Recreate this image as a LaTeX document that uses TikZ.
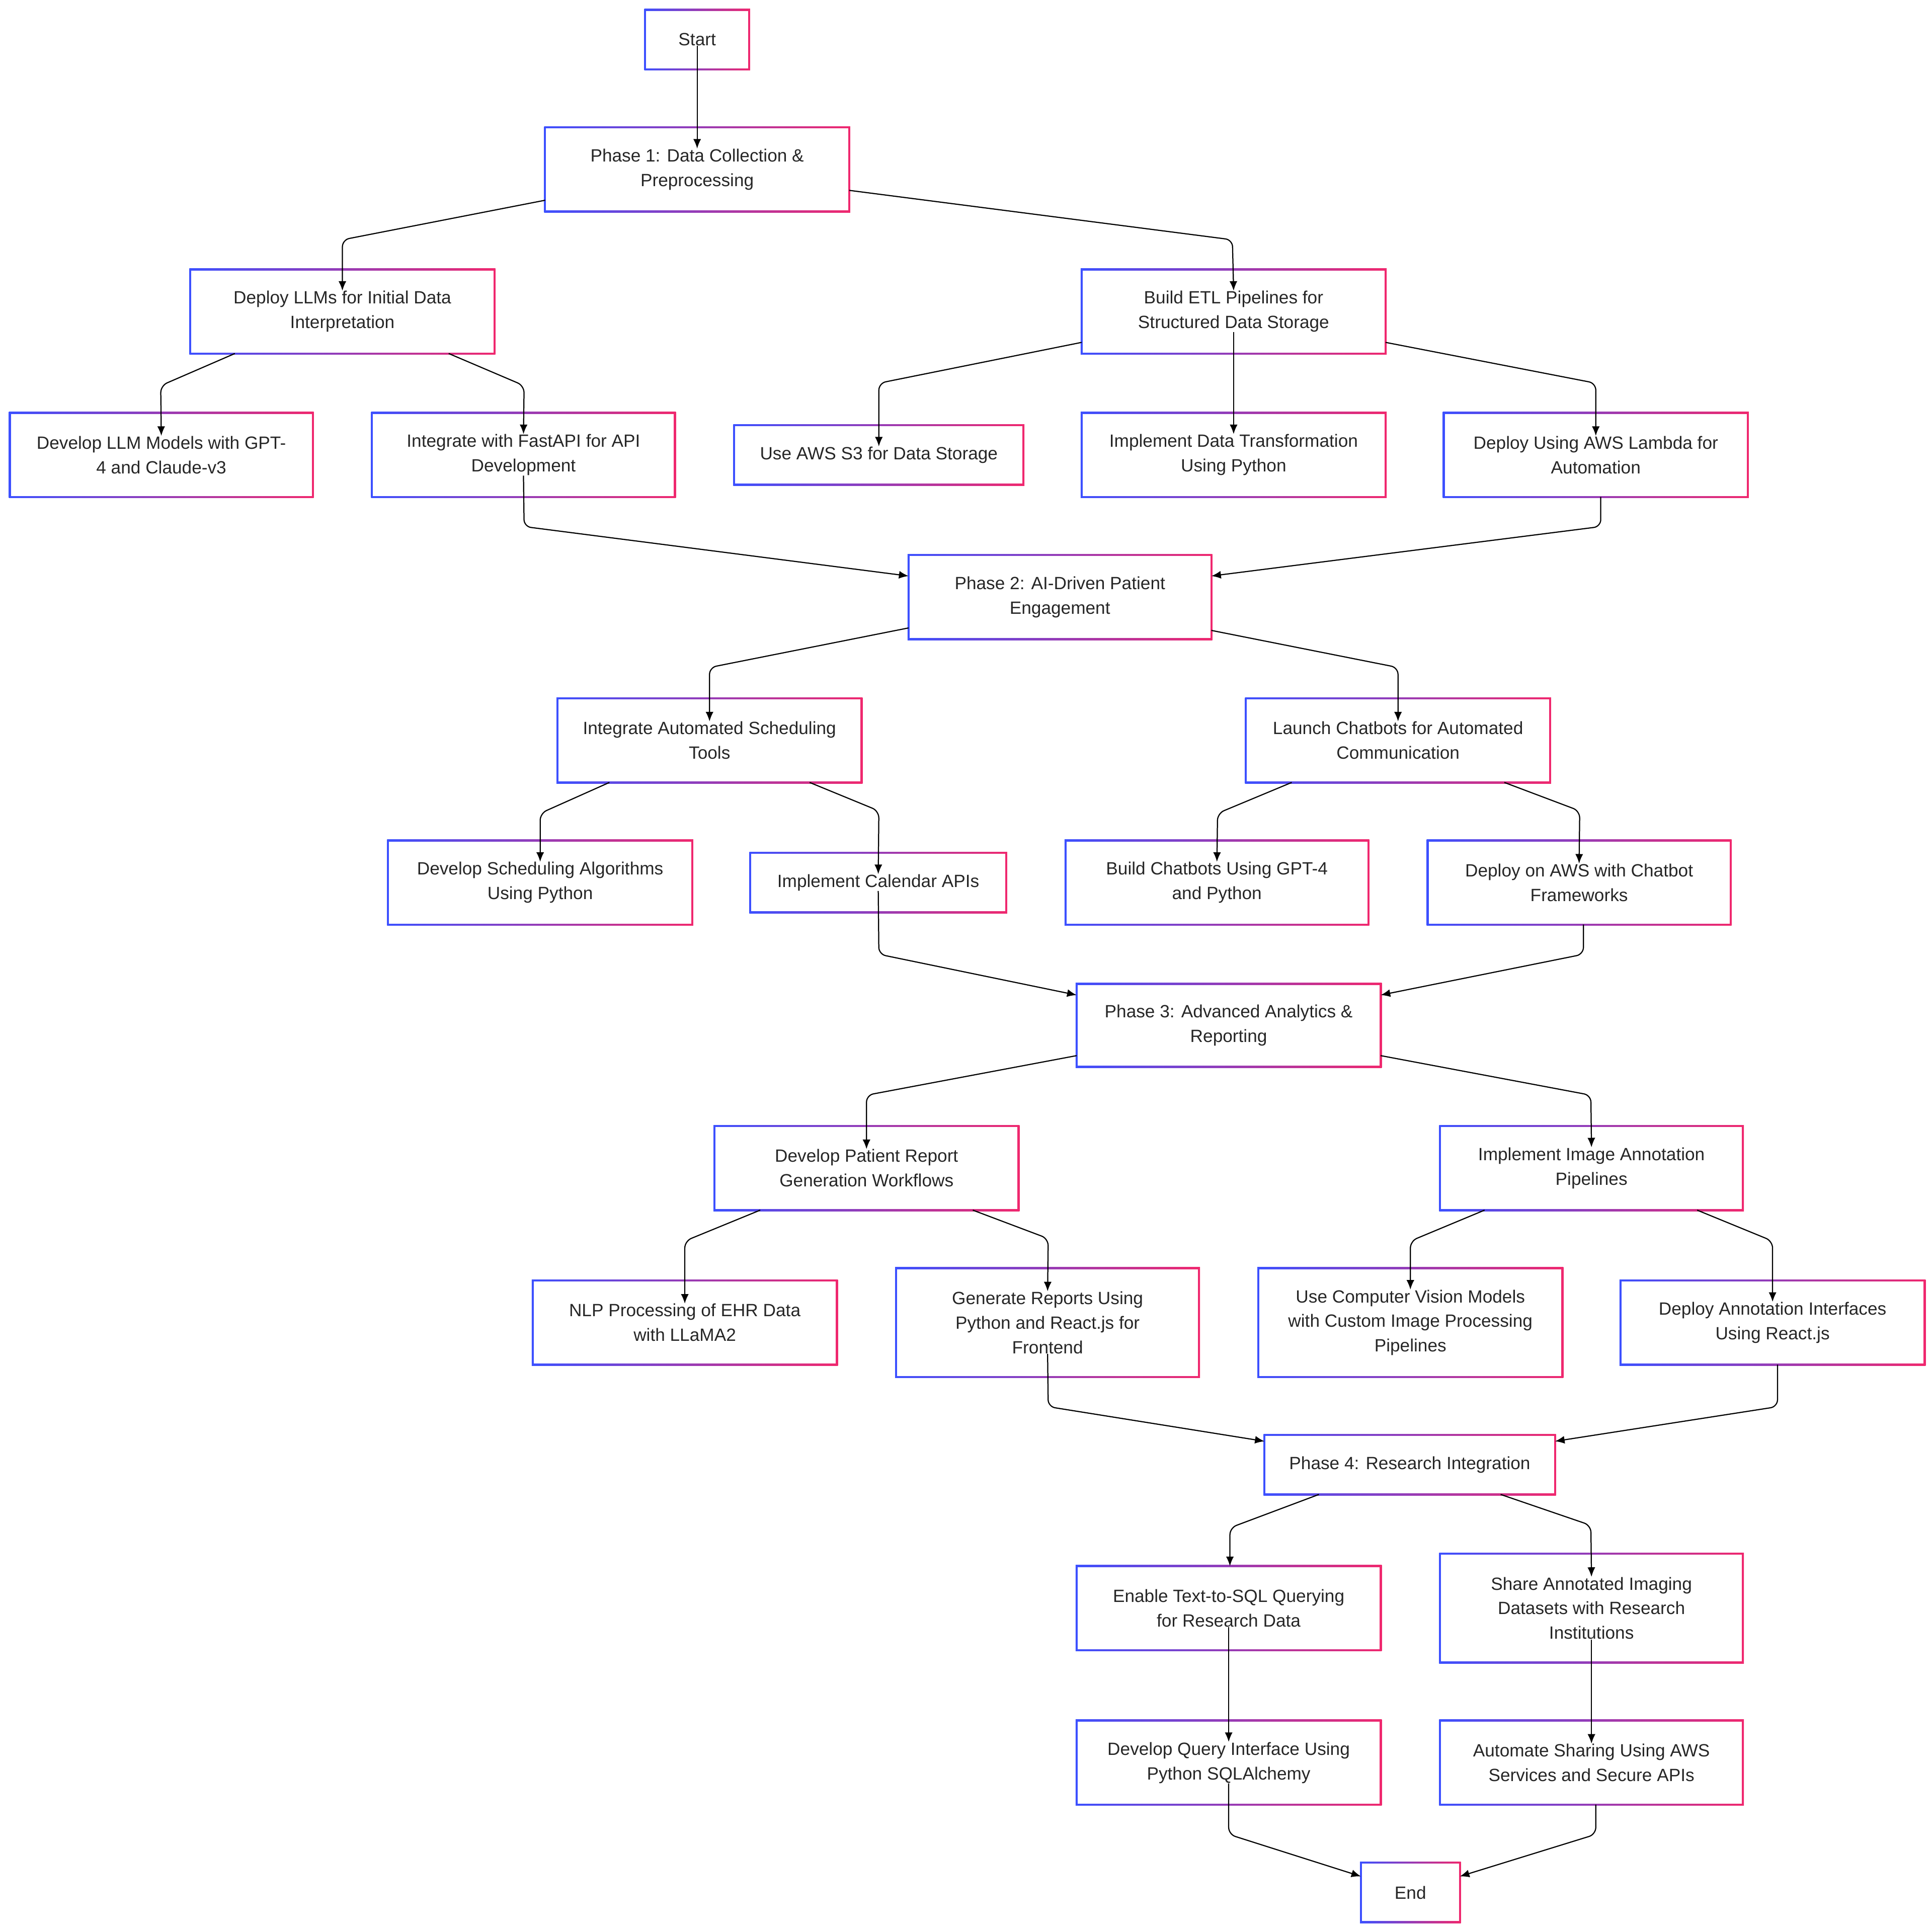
\documentclass[tikz,border=0pt]{standalone}
\usepackage{fontspec}
\setmainfont{Liberation Sans}
\usetikzlibrary{arrows.meta}
\definecolor{bl}{RGB}{60,80,255}
\definecolor{pk}{RGB}{240,40,110}
\tikzset{txt/.style={inner sep=0pt,align=center,font=\fontsize{20.4}{28.3}\selectfont,text=black!85},
 edge/.style={line width=1.3pt,-{Latex[length=11pt,width=9pt]},rounded corners=8pt}}
\newcommand{\gnode}[6]{%
 \shade[left color=bl,right color=pk] (#2-0.8,#3-0.8) rectangle (#4+0.8,#5+0.8);
 \fill[white] (#2+0.8,#3+0.8) rectangle (#4-0.8,#5-0.8);
 \node[txt] (#1) at ({(#2+#4)/2},{(#3+#5)/2}) {#6};
 \coordinate (#1-n) at ({(#2+#4)/2},#3);}
\begin{document}
\begin{tikzpicture}[x=0.5mm,y=-0.5mm]
\useasboundingbox[fill=white] (0,0) rectangle (1563,1562);
\gnode{S}{522}{8}{606}{56}{Start}
\gnode{P1}{441}{103}{687}{171}{Phase 1: Data Collection \&\\Preprocessing}
\gnode{A}{154}{218}{400}{286}{Deploy LLMs for Initial Data\\Interpretation}
\gnode{B}{875}{218}{1121}{286}{Build ETL Pipelines for\\Structured Data Storage}
\gnode{A1}{8}{334}{253}{402}{Develop LLM Models with GPT-\\4 and Claude-v3}
\gnode{A2}{301}{334}{546}{402}{Integrate with FastAPI for API\\Development}
\gnode{B1}{594}{344}{828}{392}{Use AWS S3 for Data Storage}
\gnode{B2}{875}{334}{1121}{402}{Implement Data Transformation\\Using Python}
\gnode{B3}{1168}{334}{1414}{402}{Deploy Using AWS Lambda for\\Automation}
\gnode{P2}{735}{449}{980}{517}{Phase 2: AI-Driven Patient\\Engagement}
\gnode{C}{451}{565}{697}{633}{Integrate Automated Scheduling\\Tools}
\gnode{D}{1008}{565}{1254}{633}{Launch Chatbots for Automated\\Communication}
\gnode{C1}{314}{680}{560}{748}{Develop Scheduling Algorithms\\Using Python}
\gnode{C2}{607}{690}{814}{738}{Implement Calendar APIs}
\gnode{D1}{862}{680}{1107}{748}{Build Chatbots Using GPT-4\\and Python}
\gnode{D2}{1155}{680}{1400}{748}{Deploy on AWS with Chatbot\\Frameworks}
\gnode{P3}{871}{796}{1117}{863}{Phase 3: Advanced Analytics \&\\Reporting}
\gnode{E}{578}{911}{824}{979}{Develop Patient Report\\Generation Workflows}
\gnode{F}{1165}{911}{1410}{979}{Implement Image Annotation\\Pipelines}
\gnode{E1}{431}{1036}{677}{1104}{NLP Processing of EHR Data\\with LLaMA2}
\gnode{E2}{725}{1026}{970}{1114}{Generate Reports Using\\Python and React.js for\\Frontend}
\gnode{F1}{1018}{1026}{1264}{1114}{Use Computer Vision Models\\with Custom Image Processing\\Pipelines}
\gnode{F2}{1311}{1036}{1557}{1104}{Deploy Annotation Interfaces\\Using React.js}
\gnode{P4}{1023}{1161}{1258}{1209}{Phase 4: Research Integration}
\gnode{G}{871}{1267}{1117}{1335}{Enable Text-to-SQL Querying\\for Research Data}
\gnode{H}{1165}{1257}{1410}{1345}{Share Annotated Imaging\\Datasets with Research\\Institutions}
\gnode{G1}{871}{1392}{1117}{1460}{Develop Query Interface Using\\Python SQLAlchemy}
\gnode{H1}{1165}{1392}{1410}{1460}{Automate Sharing Using AWS\\Services and Secure APIs}
\gnode{T}{1101}{1507}{1181}{1555}{End}
\draw[edge] (S.south) -- (P1.north);
\draw[edge] (441,162) -- (277,194) -- (A.north);
\draw[edge] (687,154) -- (997,194) -- (B.north);
\draw[edge] (190,286) -- (130,312) -- (A1.north);
\draw[edge] (363,286) -- (424,312) -- (A2.north);
\draw[edge] (875,277) -- (711,310) -- (B1.north);
\draw[edge] (B.south) -- (B2.north);
\draw[edge] (1121,277) -- (1291,310) -- (B3.north);
\draw[edge] (A2.south) -- (424,426) -- (735,466);
\draw[edge] (1295,402) -- (1295,426) -- (980,466);
\draw[edge] (735,508) -- (574,540) -- (C.north);
\draw[edge] (980,510) -- (1131,540) -- (D.north);
\draw[edge] (493,633) -- (437,658) -- (C1.north);
\draw[edge] (655,633) -- (711,656) -- (C2.north);
\draw[edge] (1045,633) -- (985,658) -- (D1.north);
\draw[edge] (1217,633) -- (1278,656) -- (D2.north);
\draw[edge] (C2.south) -- (711,772) -- (871,805);
\draw[edge] (1281,748) -- (1281,772) -- (1117,805);
\draw[edge] (871,854) -- (701,886) -- (E.north);
\draw[edge] (1117,854) -- (1287,886) -- (F.north);
\draw[edge] (615,979) -- (554,1004) -- (E1.north);
\draw[edge] (787,979) -- (848,1002) -- (E2.north);
\draw[edge] (1201,979) -- (1141,1004) -- (F1.north);
\draw[edge] (1373,979) -- (1434,1004) -- (F2.north);
\draw[edge] (E2.south) -- (848,1138) -- (1023,1166);
\draw[edge] (1438,1104) -- (1438,1138) -- (1258,1166);
\draw[edge] (1067,1209) -- (995,1236) -- (995,1267);
\draw[edge] (1214,1209) -- (1287,1234) -- (H.north);
\draw[edge] (G.south) -- (G1.north);
\draw[edge] (H.south) -- (H1.north);
\draw[edge] (G1.south) -- (994,1484) -- (1101,1518);
\draw[edge] (1291,1460) -- (1291,1484) -- (1181,1518);
\end{tikzpicture}
\end{document}
